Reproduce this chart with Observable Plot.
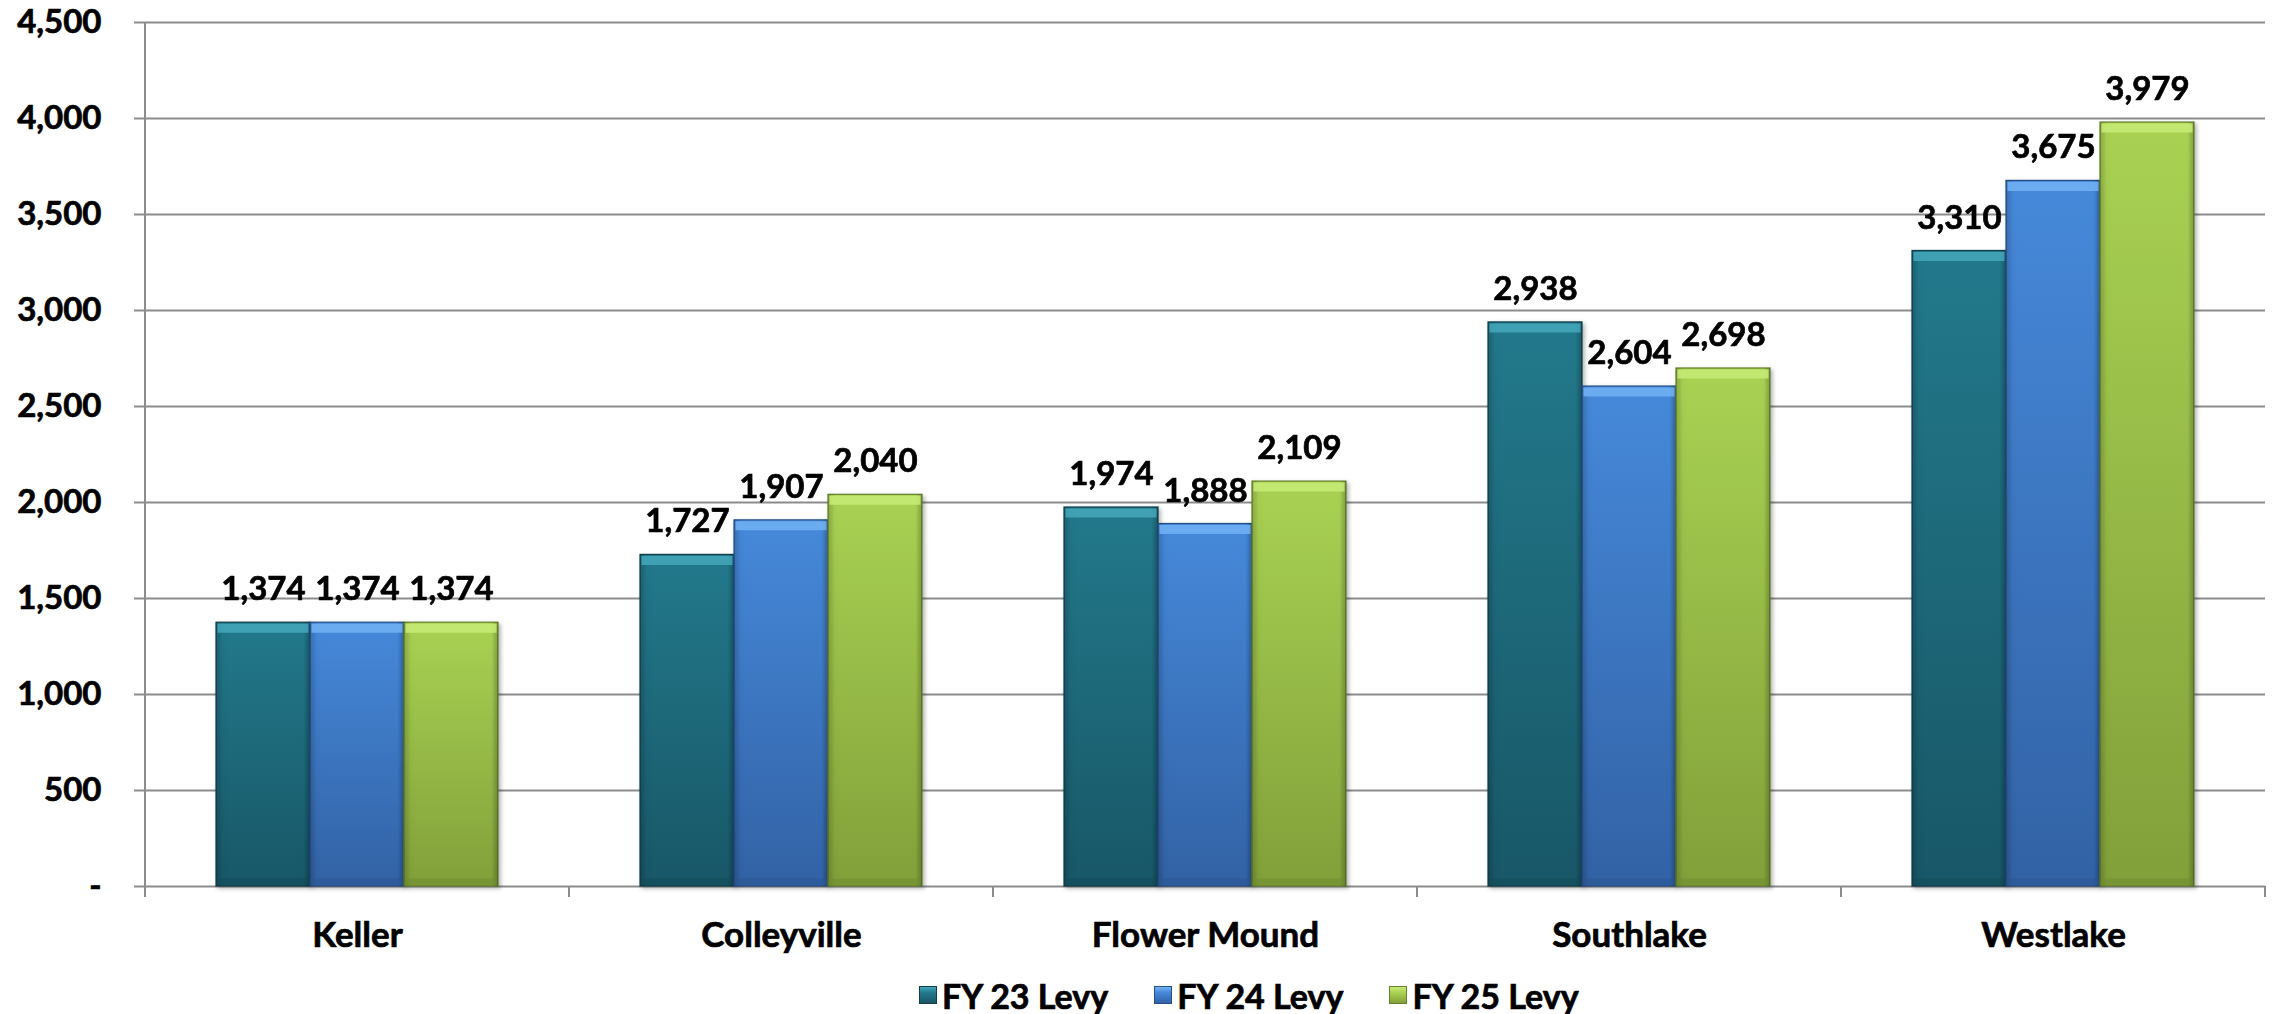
<!DOCTYPE html>
<html>
<head>
<meta charset="utf-8">
<title>Levy by city, FY 23 – FY 25</title>
<script src="https://cdn.jsdelivr.net/npm/d3@7"></script>
<script src="https://cdn.jsdelivr.net/npm/@observablehq/plot@0.6"></script>
<style>
  html, body { margin: 0; padding: 0; background: #ffffff; }
  body { width: 2277px; height: 1014px; position: relative; overflow: hidden;
         font-family: Lato, "Open Sans", "DejaVu Sans", sans-serif; }
  #chart { position: absolute; left: 0; top: 0; }
  #legend { position: absolute; left: 919px; top: 970px; height: 50px;
            display: flex; justify-content: flex-start; align-items: center; gap: 46px;
            font-size: 34px; font-weight: 700; color: #000; -webkit-text-stroke: 0.7px #000; }
  .item { display: flex; align-items: center; gap: 5px; white-space: nowrap; }
  .swatch { width: 18px; height: 18px; box-sizing: border-box; -webkit-text-stroke: 0; }
</style>
</head>
<body>
<div id="chart"></div>
<div id="legend"></div>
<script>
// Cities along the x axis
const cities = ["Keller", "Colleyville", "Flower Mound", "Southlake", "Westlake"];
// Series shown for each city
const series = ["FY 23 Levy", "FY 24 Levy", "FY 25 Levy"];
// Levy per city, one array per fiscal year
const fy23 = [1374, 1727, 1974, 2938, 3310];
const fy24 = [1374, 1907, 1888, 2604, 3675];
const fy25 = [1374, 2040, 2109, 2698, 3979];
// Y axis ticks
const yTicks = [0, 500, 1000, 1500, 2000, 2500, 3000, 3500, 4000, 4500];

// Bar styling per series: gradient top/bottom, bevel highlight, edge
const palette = [
  { top: "#22798b", bottom: "#185767", bevel: "#45a7bb", edge: "#123f4a", shade: "#134a57" },
  { top: "#4689da", bottom: "#3262a5", bevel: "#72b3f4", edge: "#264f86", shade: "#2b5590" },
  { top: "#a9d253", bottom: "#82a03a", bevel: "#c8ec78", edge: "#66802c", shade: "#6f8c30" }
];

const levels = [fy23, fy24, fy25];
const rows = cities.flatMap((city, i) =>
  series.map((s, j) => ({ city, series: s, value: levels[j][i] })));

const fmt = d3.format(",");
const gridColor = "#8c8c8c";
const font = "Lato, 'Open Sans', 'DejaVu Sans', sans-serif";

const W = 2277, H = 960;
const marks = [
  Plot.gridY(yTicks, { stroke: gridColor, strokeOpacity: 1, strokeWidth: 2 }),
  Plot.axisY(yTicks, {
    tickFormat: d => d === 0 ? "-" : fmt(d),
    tickSize: 11, tickPadding: 33, stroke: gridColor, strokeWidth: 2,
    fill: "#000", fontSize: 33, fontWeight: 700, label: null
  })
];

series.forEach((s, j) => {
  const sel = rows.filter(d => d.series === s);
  const p = palette[j];
  // body of the bar
  marks.push(Plot.barY(sel, {
    fx: "city", x: "series", y: "value",
    fill: `url(#bar-grad-${j})`, stroke: p.edge, strokeWidth: 1.2
  }));
  // darkened side edges
  marks.push(Plot.barY(sel, {
    fx: "city", x: "series", y: "value", fill: "url(#bar-sides)"
  }));
  // lighter bevel along the top
  marks.push(Plot.tickY(sel, {
    fx: "city", x: "series", y: "value",
    stroke: p.bevel, strokeWidth: 9, strokeOpacity: 0.85, dy: 5.5, insetLeft: 1.5, insetRight: 1.5
  }));
  // darker bevel along the base
  marks.push(Plot.tickY(sel, {
    fx: "city", x: "series", y: () => 0,
    stroke: p.shade, strokeWidth: 7, strokeOpacity: 0.55, dy: -4.5, insetLeft: 1.5, insetRight: 1.5
  }));
});

marks.push(Plot.text(rows, {
  fx: "city", x: "series", y: "value",
  text: d => fmt(d.value), dy: -33,
  fontSize: 33, fontWeight: 700, fill: "#000", stroke: "#000", strokeWidth: 0.7
}));

const plot = Plot.plot({
  width: W, height: H,
  marginTop: 22, marginBottom: 74, marginLeft: 145, marginRight: 12,
  style: { fontFamily: font, background: "#ffffff", overflow: "visible" },
  fx: { domain: cities, padding: 0, label: null, axis: "bottom", tickSize: 0, tickPadding: 36 },
  x: { domain: series, paddingInner: 0, paddingOuter: 0.75, axis: null },
  y: { domain: [0, 4500], axis: null },
  marks
});

const svg = d3.select(plot);

// gradients used by the bars
const defs = svg.insert("defs", ":first-child");
palette.forEach((p, j) => {
  const g = defs.append("linearGradient").attr("id", `bar-grad-${j}`)
    .attr("x1", 0).attr("y1", 0).attr("x2", 0).attr("y2", 1);
  g.append("stop").attr("offset", "0%").attr("stop-color", p.top);
  g.append("stop").attr("offset", "100%").attr("stop-color", p.bottom);
});
const sides = defs.append("linearGradient").attr("id", "bar-sides")
  .attr("x1", 0).attr("y1", 0).attr("x2", 1).attr("y2", 0);
[["0%", 0.18], ["7%", 0.0], ["93%", 0.0], ["100%", 0.22]].forEach(([o, a]) =>
  sides.append("stop").attr("offset", o).attr("stop-color", "#000").attr("stop-opacity", a));

// soft shadow beneath the bars
svg.selectAll("g[aria-label='bar']")
  .style("filter", "drop-shadow(2px 2px 2px rgba(0,0,0,0.28))");

// axis labels in heavy black
svg.selectAll("g[aria-label='fx-axis tick label']")
  .attr("font-weight", 700).attr("font-size", 35).attr("fill", "#000")
  .attr("stroke", "#000").attr("stroke-width", 0.7);
svg.selectAll("g[aria-label='y-axis tick label']")
  .attr("stroke", "#000").attr("stroke-width", 0.7);

// vertical axis line and category separator ticks
const ys = plot.scale("y");
let fxEdges;
const fxs = plot.scale("fx");
if (fxs && fxs.apply) {
  fxEdges = cities.map(c => fxs.apply(c));
  fxEdges.push(fxs.apply(cities[cities.length - 1]) + (fxs.bandwidth ?? 0));
} else {
  const b = d3.scaleBand(cities, [145, W - 12]).padding(0);
  fxEdges = cities.map(c => b(c)).concat([W - 12]);
}
const y0 = ys.apply(0), yTop = ys.apply(4500);
const deco = svg.append("g").attr("stroke", gridColor).attr("stroke-width", 2);
deco.append("line").attr("x1", fxEdges[0]).attr("x2", fxEdges[0])
  .attr("y1", yTop).attr("y2", y0 + 11);
fxEdges.forEach(x => deco.append("line").attr("x1", x).attr("x2", x)
  .attr("y1", y0).attr("y2", y0 + 11));

document.getElementById("chart").appendChild(plot);

// legend below the chart
const legend = d3.select("#legend");
series.forEach((s, j) => {
  const p = palette[j];
  const item = legend.append("div").attr("class", "item");
  item.append("div").attr("class", "swatch")
    .style("background", `linear-gradient(to bottom, ${p.bevel} 0%, ${p.top} 35%, ${p.bottom} 100%)`)
    .style("border", `1px solid ${p.edge}`);
  item.append("span").text(s);
});
</script>
</body>
</html>
